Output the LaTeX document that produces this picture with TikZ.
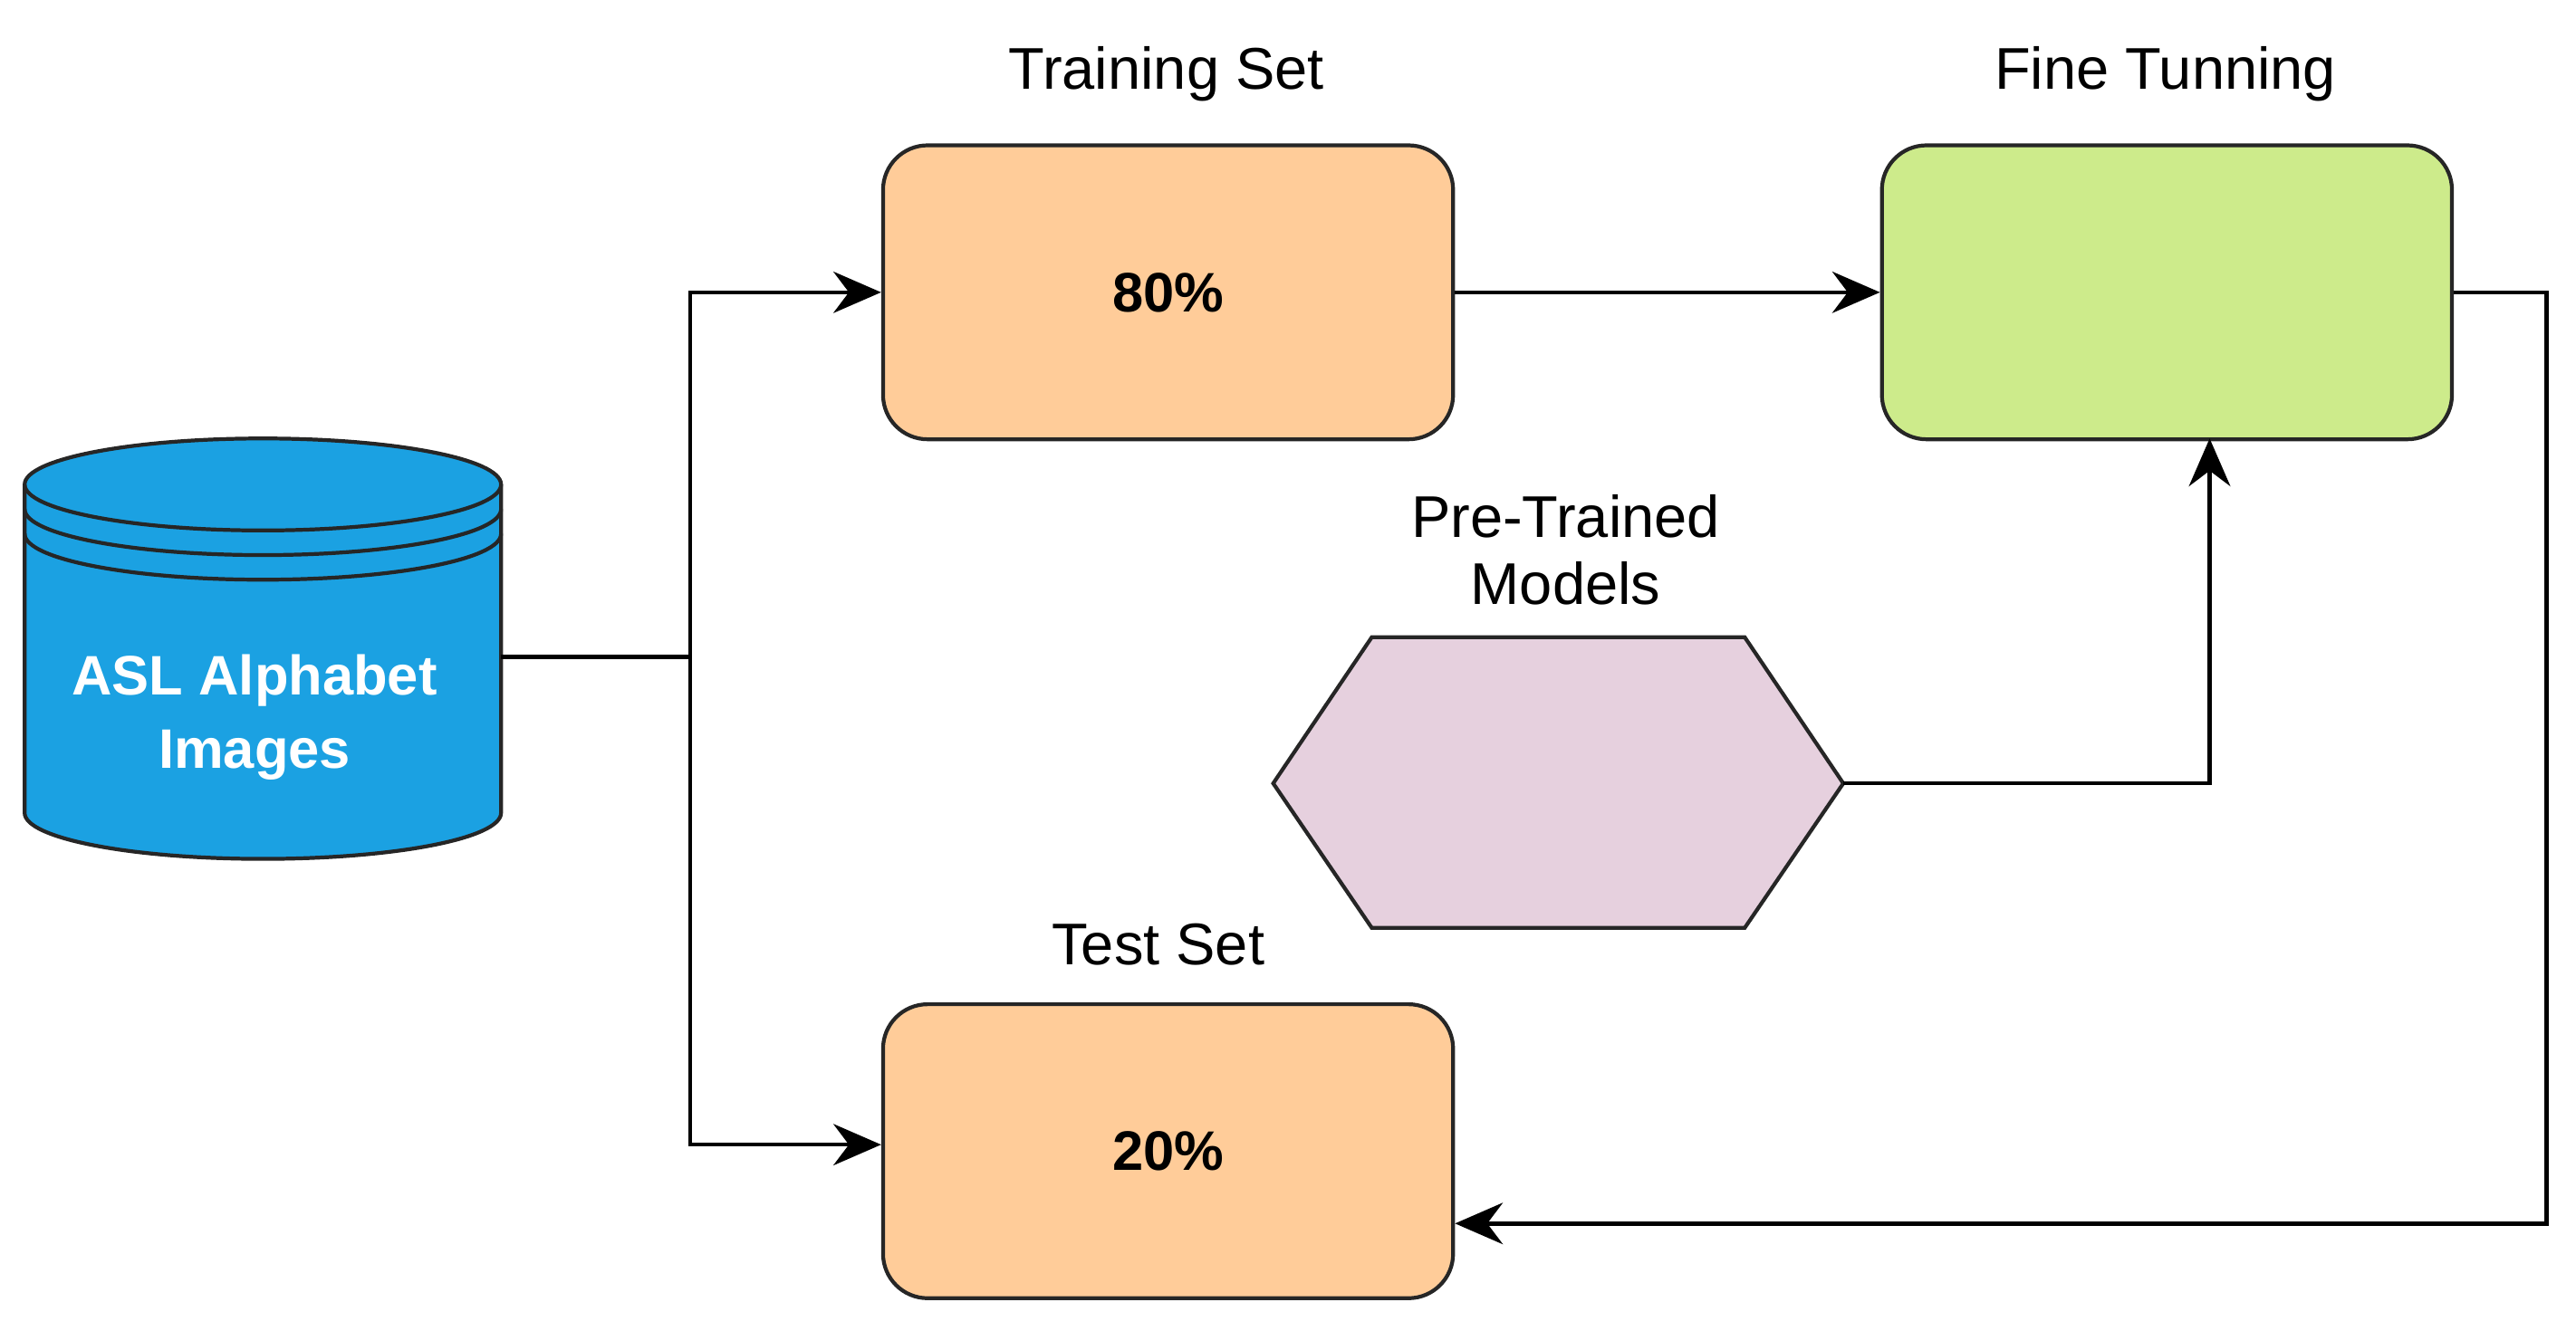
\documentclass[tikz,border=0pt]{standalone}
\usepackage{fontspec}
\setmainfont{Liberation Sans}
\usetikzlibrary{arrows.meta,shapes.geometric}
\begin{document}
\begin{tikzpicture}[x=0.018138cm,y=-0.018138cm,
  box/.style={draw=black!85,line width=1.2pt,rounded corners=14pt,minimum width=347*0.018138cm,minimum height=179*0.018138cm},
  ttl/.style={font=\fontsize{18.5}{21}\selectfont},
  conn/.style={line width=1.3pt,-{Stealth[length=15pt,width=13pt]}},
  ln/.style={line width=1.3pt}]
\useasboundingbox (0,0) rectangle (1568,810);
\definecolor{dbblue}{RGB}{27,161,226}
% cylinder
\begin{scope}[line width=1.2pt]
\fill[dbblue] (15,295) rectangle (305,495);
\fill[dbblue] (160,295) ellipse[x radius=145,y radius=28];
\fill[dbblue] (160,495) ellipse[x radius=145,y radius=28];
\draw[black!85] (15,295) -- (15,495) arc[start angle=180,end angle=0,x radius=145,y radius=28] -- (305,295);
\draw[black!85] (160,295) ellipse[x radius=145,y radius=28];
\draw[black!85] (15,310) arc[start angle=180,end angle=0,x radius=145,y radius=28];
\draw[black!85] (15,325) arc[start angle=180,end angle=0,x radius=145,y radius=28];
\end{scope}
\node[text=white,font=\bfseries\fontsize{17.5}{23}\selectfont,align=center] (db) at (155,437) {ASL Alphabet\\Images};
\coordinate (dbr) at (305,400);
\node[box,fill={rgb,255:red,255;green,204;blue,153}] (train) at (711,178) {\bfseries\fontsize{17.5}{20}\selectfont 80\%};
\node[box,fill={rgb,255:red,205;green,235;blue,139}] (fine) at (1319,178) {};
\node[box,fill={rgb,255:red,255;green,204;blue,153}] (test) at (711,701) {\bfseries\fontsize{17.5}{20}\selectfont 20\%};
\node[ttl] (t1) at (710,45) {Training Set};
\node[ttl] (t2) at (1318,45) {Fine Tunning};
\node[ttl] (t3) at (705,575) {Test Set};
\node[ttl,align=center] (t4) at (953,335) {Pre-Trained\\Models};
\draw[line width=1.2pt,draw=black!85,fill={rgb,255:red,230;green,208;blue,222}] (775,477) -- (835,388) -- (1062,388) -- (1122,477) -- (1062,565) -- (835,565) -- cycle;
\coordinate (hex) at (1122,477);
\coordinate (j) at (420,400);
\draw[ln] (dbr) -- (j);
\draw[conn] (j) -- (420,178) -- (train.west);
\draw[conn] (j) -- (420,697) -- (test.west|-0,697);
\draw[conn] (train.east) -- (fine.west);
\draw[conn] (hex) -- (1345,477) -- (1345,267);
\draw[conn] (fine.east) -- (1550,178) -- (1550,745) -- (test.east|-0,745);
\end{tikzpicture}
\end{document}
